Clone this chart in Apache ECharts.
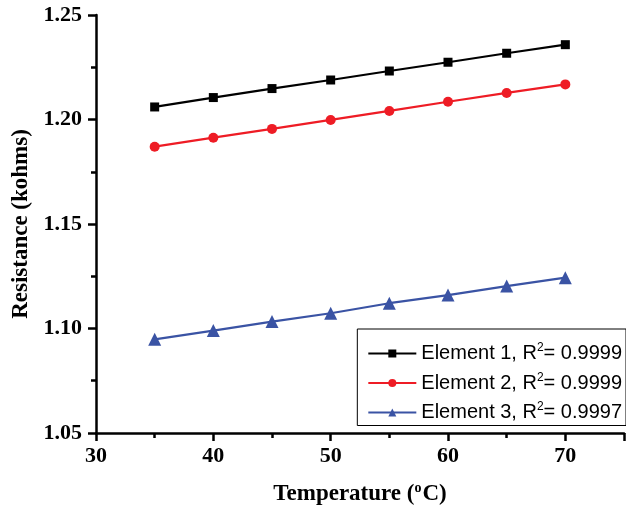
<!DOCTYPE html>
<html lang="en">
<head>
    <meta charset="UTF-8">
    <title>Resistance vs Temperature</title>
    <script src="https://cdn.jsdelivr.net/npm/echarts@6/dist/echarts.min.js"></script>
    <style>
        html, body { margin: 0; padding: 0; background: #fff; }
        #chart { width: 626px; height: 508px; }
    </style>
</head>
<body>
<div id="chart"></div>
<script>
    // temperatures (°C)
    var temps = [35, 40, 45, 50, 55, 60, 65, 70];
    // resistance (kohms)
    var element1 = [1.206, 1.2105, 1.2148, 1.2189, 1.2232, 1.2274, 1.2317, 1.2358];
    var element2 = [1.187, 1.1913, 1.1955, 1.1998, 1.2041, 1.2085, 1.2127, 1.2168];
    var element3 = [1.0948, 1.0990, 1.1033, 1.1073, 1.1121, 1.1160, 1.1203, 1.1243];
    var names = ['Element 1', 'Element 2', 'Element 3'];
    var r2 = ['0.9999', '0.9999', '0.9997'];

    var colors = ['#000000', '#ee1c25', '#3a53a4'];
    var symbols = ['rect', 'circle', 'triangle'];
    var sizes = [9, 10, 13];

    function pairs(ys) {
        var out = [];
        for (var i = 0; i < temps.length; i++) out.push([temps[i], ys[i]]);
        return out;
    }

    var allData = [element1, element2, element3];
    var series = [];
    for (var i = 0; i < allData.length; i++) {
        series.push({
            name: names[i],
            type: 'line',
            data: pairs(allData[i]),
            symbol: symbols[i],
            symbolSize: sizes[i],
            color: colors[i],
            lineStyle: { width: 2.2, color: colors[i] },
            itemStyle: { color: colors[i] }
        });
    }

    var chart = echarts.init(document.getElementById('chart'));
    var option = {
        animation: false,
        grid: { left: 96, top: 15, right: 2, bottom: 75, outerBoundsMode: 'none', containLabel: false },
        legend: {
            data: names,
            orient: 'vertical',
            right: 0,
            top: 329,
            padding: [13, 4, 3, 10],
            itemGap: 8,
            itemWidth: 48,
            itemHeight: 10,
            borderColor: '#000',
            borderWidth: 1,
            backgroundColor: '#fff',
            formatter: function (name) {
                var k = names.indexOf(name);
                return name + ', R{sup|2}= ' + r2[k];
            },
            textStyle: {
                fontFamily: 'Liberation Sans',
                fontSize: 20,
                color: '#000',
                padding: [0, 0, 0, 0],
                rich: {
                    sup: { fontFamily: 'Liberation Sans', fontSize: 12, verticalAlign: 'top', padding: [0, 0, 11, 0], color: '#000' }
                }
            }
        },
        xAxis: {
            type: 'value',
            min: 30,
            max: 75,
            interval: 10,
            name: 'Temperature ({sup|o}C)',
            nameLocation: 'middle',
            nameGap: 48,
            nameTextStyle: {
                fontFamily: 'Liberation Serif',
                fontWeight: 'bold',
                fontSize: 23,
                color: '#000',
                rich: {
                    sup: { fontFamily: 'Liberation Serif', fontSize: 14, fontWeight: 'bold', verticalAlign: 'top', padding: [0, 1, 13, 0], color: '#000' }
                }
            },
            splitLine: { show: false },
            axisLine: { onZero: false, lineStyle: { color: '#000', width: 2.5 } },
            axisTick: { show: true, inside: false, length: 8, lineStyle: { color: '#000', width: 2.5 } },
            minorTick: { show: true, splitNumber: 2, length: 5, lineStyle: { color: '#000', width: 2.5 } },
            axisLabel: {
                showMaxLabel: false,
                margin: 12,
                fontFamily: 'Liberation Serif',
                fontWeight: 'bold',
                fontSize: 22,
                color: '#000'
            }
        },
        yAxis: {
            type: 'value',
            min: 1.05,
            max: 1.25,
            interval: 0.05,
            name: 'Resistance (kohms)',
            nameLocation: 'middle',
            nameGap: 63,
            nameTextStyle: {
                fontFamily: 'Liberation Serif',
                fontWeight: 'bold',
                fontSize: 23,
                color: '#000'
            },
            splitLine: { show: false },
            axisLine: { show: true, onZero: false, lineStyle: { color: '#000', width: 2.5 } },
            axisTick: { show: true, inside: false, length: 8, lineStyle: { color: '#000', width: 2.5 } },
            minorTick: { show: true, splitNumber: 2, length: 5, lineStyle: { color: '#000', width: 2.5 } },
            axisLabel: {
                margin: 14,
                fontFamily: 'Liberation Serif',
                fontWeight: 'bold',
                fontSize: 22,
                color: '#000',
                formatter: function (v) { return v.toFixed(2); }
            }
        },
        series: series
    };
    chart.setOption(option);
</script>
</body>
</html>
